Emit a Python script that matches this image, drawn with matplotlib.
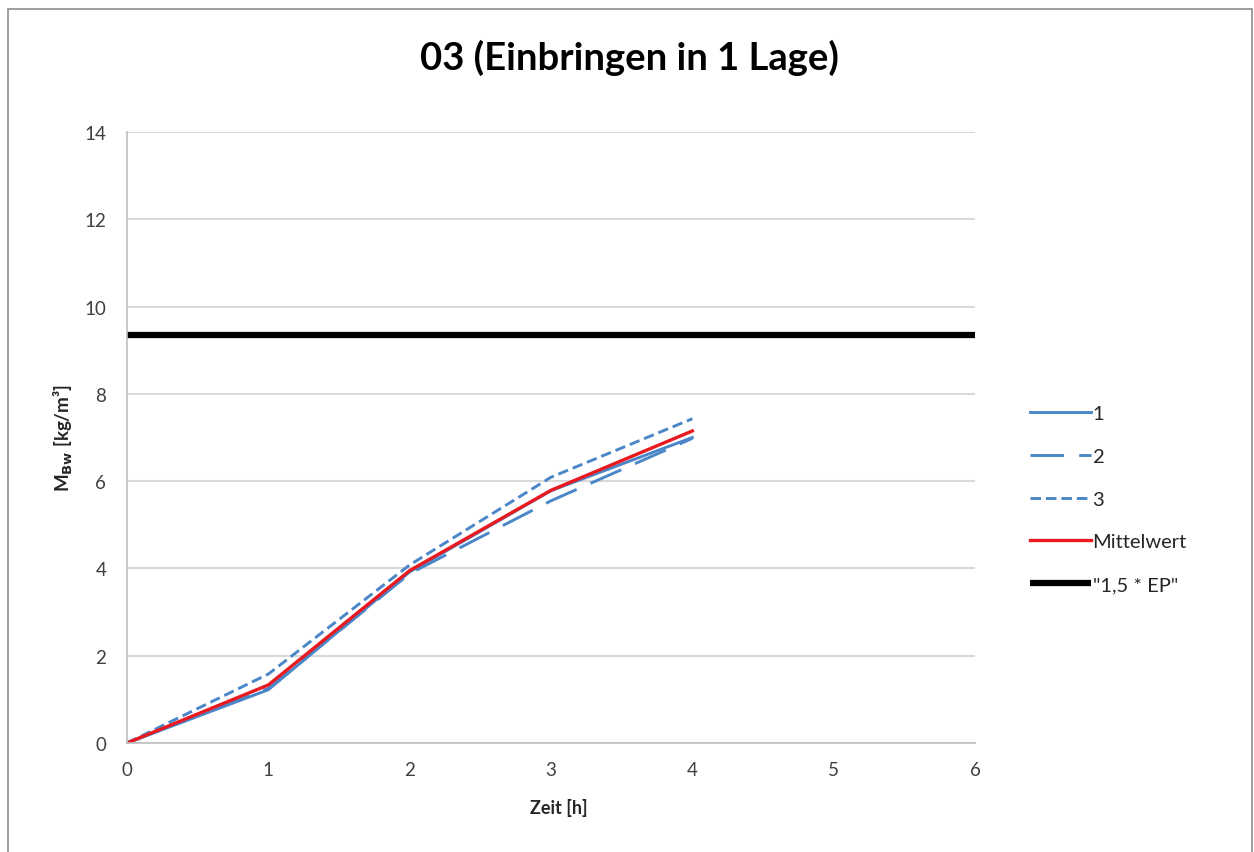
import matplotlib
matplotlib.use("Agg")
import matplotlib.pyplot as plt
from matplotlib.patches import Rectangle

# Messzeitpunkte und Messreihen
zeit_h = [0, 1, 2, 3, 4]
reihe_1 = [0.0, 1.22, 3.92, 5.78, 7.00]
reihe_2 = [0.0, 1.25, 3.88, 5.55, 6.98]
reihe_3 = [0.0, 1.58, 4.08, 6.09, 7.43]
mittelwert = [0.0, 1.33, 3.95, 5.79, 7.15]
grenzwert = 9.35  # "1,5 * EP"

x_ticks = [0, 1, 2, 3, 4, 5, 6]
y_ticks = [0, 2, 4, 6, 8, 10, 12, 14]

plt.rcParams['font.family'] = ['Lato', 'DejaVu Sans']

fig = plt.figure(figsize=(12.54, 8.53), dpi=100)
fig.patches.append(Rectangle((8 / 1254, -0.01), 1244 / 1254, 1 - 10 / 853 + 0.01,
                             transform=fig.transFigure, fill=False,
                             edgecolor='#8c8c8c', linewidth=1.2))

ax = fig.add_axes([127 / 1254, 1 - 744 / 853, 848 / 1254, 611 / 853])

blau = '#4A86C8'
ax.plot(zeit_h, reihe_1, color=blau, lw=2.1, label='1')
ax.plot(zeit_h, reihe_2, color=blau, lw=2.1, dashes=(11.5, 5.2), label='2')
ax.plot(zeit_h, reihe_3, color=blau, lw=2.1, dashes=(3.6, 1.7), label='3')
ax.plot(zeit_h, mittelwert, color='#E8191F', lw=2.4, label='Mittelwert')
ax.plot([x_ticks[0], x_ticks[-1]], [grenzwert, grenzwert], color='black', lw=4.5,
        solid_capstyle='butt', label='"1,5 * EP"', clip_on=False)

ax.set_xlim(x_ticks[0], x_ticks[-1])
ax.set_ylim(y_ticks[0], y_ticks[-1])
ax.set_xticks(x_ticks)
ax.set_yticks(y_ticks)
ax.tick_params(axis='both', length=0, labelsize=13.5, labelcolor='#404040')
ax.tick_params(axis='x', pad=13)
ax.tick_params(axis='y', pad=15)
ax.grid(axis='y', color='#d9d9d9', lw=1.5)
ax.set_axisbelow(True)
for s in ['top', 'right']:
    ax.spines[s].set_visible(False)
for s in ['left', 'bottom']:
    ax.spines[s].set_color('#bfbfbf')
    ax.spines[s].set_linewidth(1.2)

ax.set_xlabel('Zeit [h]', fontsize=13, fontweight='bold', color='#262626')
ax.set_ylabel(r'M$_{\mathbf{Bw}}$ [kg/m³]', fontsize=13.5, fontweight='bold',
              color='#262626')
ax.xaxis.set_label_coords((559 - 127) / 848, (744 - 808) / 611)
ax.yaxis.set_label_coords((63 - 127) / 848, 0.5)
ax.xaxis.label.set_va('center')
ax.yaxis.label.set_va('center')

fig.text(629 / 1254, 1 - 58 / 853, '03 (Einbringen in 1 Lage)', ha='center', va='center',
         fontsize=27.5, fontweight='bold', color='black')

leg = fig.legend(loc='upper left', bbox_to_anchor=(1012 / 1254, 1 - 388 / 853),
                 frameon=False, fontsize=14.5, handlelength=3.0, handletextpad=0.1,
                 labelspacing=1.27)
for t in leg.get_texts():
    t.set_color('#262626')

fig.savefig('out.png', dpi=100)
